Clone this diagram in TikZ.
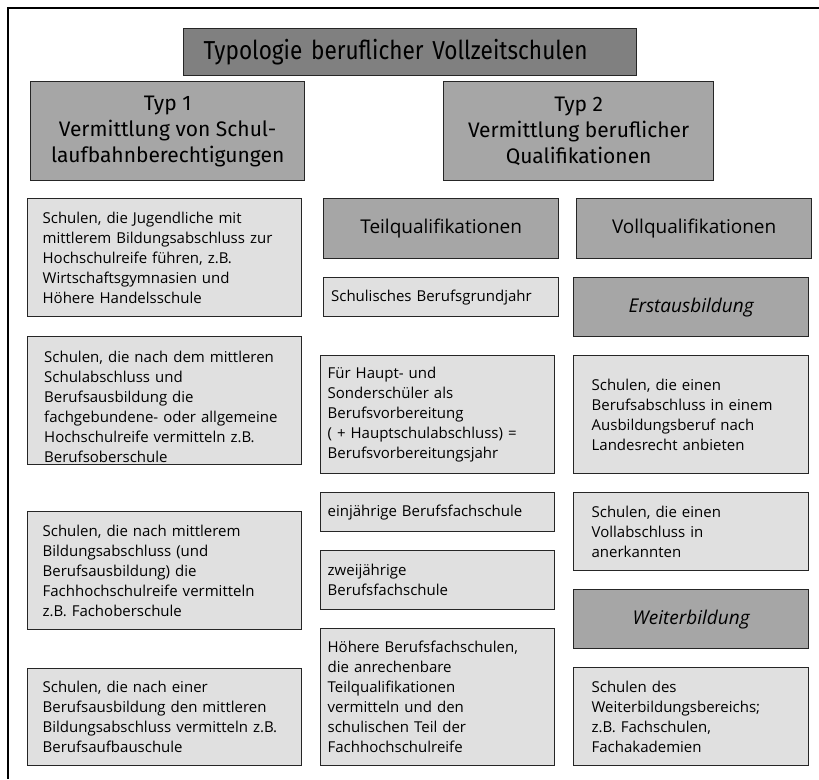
\documentclass[tikz,border=0pt]{standalone}
\usepackage{fontspec}
\setmainfont{Open Sans}
\newfontfamily\typfont{Fira Sans}
\newfontfamily\titelfont[FakeStretch=0.87]{Fira Sans}

\begin{document}
\begin{tikzpicture}[x=1pt,y=-1pt,  % Pixelkoordinaten, y nach unten
    kasten/.style={draw=black!85, line width=1.3pt, anchor=north west},
    titel/.style={kasten, fill=black!50, align=left, inner xsep=20pt, font=\titelfont\fontsize{26}{30}\selectfont},
    typ/.style={kasten, fill=black!35, align=center, font=\typfont\fontsize{21}{26}\selectfont},
    kopf/.style={kasten, fill=black!35, minimum width=235pt, font=\fontsize{19}{23}\selectfont},
    zelle/.style={kasten, fill=black!12, align=left, inner ysep=2pt, font=\fontsize{15}{20}\selectfont},
    links/.style={zelle, minimum width=274pt, text width=244pt, inner xsep=15pt},
    mitte/.style={zelle, minimum width=234pt, text width=220pt, inner xsep=7pt},
    rechts/.style={zelle, minimum width=235pt, text width=199pt, inner xsep=18pt}]
    \useasboundingbox (0,0) rectangle (819,779);
    \fill[white] (0,0) rectangle (819,779);

    % Rahmen
    \draw[line width=1.6pt] (819,8) -- (8,8) -- (8,779);

    % Titel und Typen
    \node[titel, text width=413pt, minimum height=47pt] (titel) at (183,28) {Typologie beruflicher Vollzeitschulen};
    \node[typ, minimum width=274pt, minimum height=99pt] (typ1) at (30,81) {Typ 1\\Vermittlung von Schul-\\laufbahnberechtigungen};
    \node[typ, minimum width=270pt, minimum height=99pt] (typ2) at (443,81) {Typ 2\\Vermittlung beruflicher\\Qualifikationen};

    % linke Spalte
    \node[links, minimum height=118pt] (schul1) at (27,198) {Schulen, die Jugendliche mit\\mittlerem Bildungsabschluss zur\\Hochschulreife f\"uhren, z.B.\\Wirtschaftsgymnasien und\\H\"ohere Handelsschule};
    \node[links, minimum height=128pt] (schul2) at (27,336) {};
    \begin{scope}
        \clip ([shift={(1pt,-1pt)}]schul2.north west) rectangle ([shift={(-1pt,1pt)}]schul2.south east);
        \node[anchor=north west, inner sep=0pt, text width=244pt, align=left, font=\fontsize{15}{20}\selectfont] (schul2text) at ([shift={(17pt,-15pt)}]schul2.north west) {Schulen, die nach dem mittleren\\Schulabschluss und\\Berufsausbildung die\\fachgebundene- oder allgemeine\\Hochschulreife vermitteln z.B.\\Berufsoberschule};
    \end{scope}
    \node[links, minimum height=118pt] (schul3) at (27,511) {Schulen, die nach mittlerem\\Bildungsabschluss (und\\Berufsausbildung) die\\Fachhochschulreife vermitteln\\z.B. Fachoberschule};
    \node[links, minimum height=97pt] (schul4) at (27,668) {Schulen, die nach einer\\Berufsausbildung den mittleren\\Bildungsabschluss vermitteln z.B.\\Berufsaufbauschule};

    % mittlere Spalte
    \node[kopf, minimum height=60pt] (teil) at (323,198) {Teilqualifikationen};
    \node[mitte, minimum width=235pt, minimum height=39pt] (grundjahr) at (323,277) {Schulisches Berufsgrundjahr};
    \node[mitte, minimum height=118pt] (bvj) at (320,355) {F\"ur Haupt- und\\Sondersch\"uler als\\Berufsvorbereitung\\( + Hauptschulabschluss) =\\Berufsvorbereitungsjahr};
    \node[mitte, minimum height=39pt] (bfs1) at (320,492) {einj\"ahrige Berufsfachschule};
    \node[mitte, minimum height=59pt] (bfs2) at (320,550) {zweij\"ahrige\\Berufsfachschule};
    \node[mitte, minimum height=137pt] (hbfs) at (320,628) {H\"ohere Berufsfachschulen,\\die anrechenbare\\Teilqualifikationen\\vermitteln und den\\schulischen Teil der\\Fachhochschulreife};

    % rechte Spalte
    \node[kopf, minimum height=60pt] (voll) at (576,198) {Vollqualifikationen};
    \node[kopf, minimum height=59pt, font=\itshape\fontsize{19}{23}\selectfont] (erst) at (573,277) {Erstausbildung};
    \node[rechts, minimum height=118pt] (landesrecht) at (573,355) {Schulen, die einen\\Berufsabschluss in einem\\Ausbildungsberuf nach\\Landesrecht anbieten};
    \node[rechts, minimum height=78pt] (vollab) at (573,492) {Schulen, die einen\\Vollabschluss in\\anerkannten};
    \node[kopf, minimum height=59pt, font=\itshape\fontsize{19}{23}\selectfont] (weiter) at (573,589) {Weiterbildung};
    \node[rechts, minimum height=98pt] (fachschulen) at (573,667) {Schulen des\\Weiterbildungsbereichs;\\z.B. Fachschulen,\\Fachakademien};
\end{tikzpicture}
\end{document}
